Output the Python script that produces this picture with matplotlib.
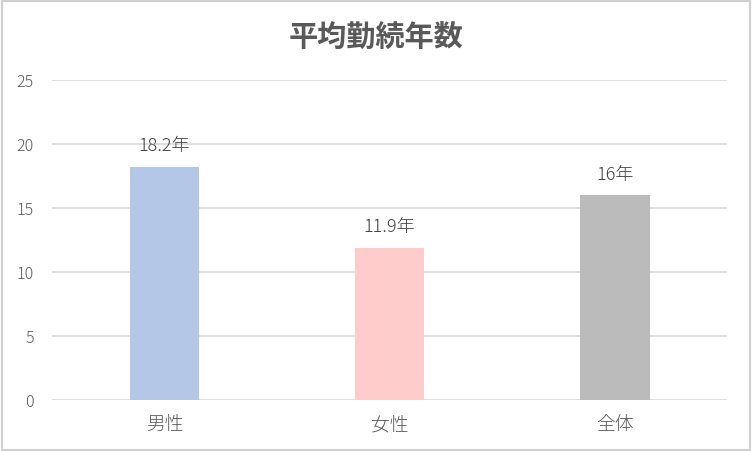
import matplotlib
matplotlib.use("Agg")
from matplotlib import pyplot as plt
from matplotlib.patches import Rectangle

plt.rcParams['font.family'] = ['Noto Sans CJK JP', 'DejaVu Sans']

# data
categories = ["男性", "女性", "全体"]
values = [18.2, 11.9, 16]
labels = ["18.2年", "11.9年", "16年"]
colors = ["#B4C7E7", "#FFCCCC", "#BBBBBB"]
yticks = [0, 5, 10, 15, 20, 25]

fig = plt.figure(figsize=(7.52, 4.52), dpi=100)
ax = fig.add_axes([0.069, 0.113, 0.898, 0.708])

x = range(len(categories))
bars = ax.bar(x, values, width=0.31, color=colors, zorder=3)

for b, lab in zip(bars, labels):
    ax.annotate(lab, (b.get_x() + b.get_width() / 2, b.get_height()),
                xytext=(0, 9), textcoords="offset points",
                ha="center", va="bottom", fontsize=13, fontweight="light",
                color="#404040")

ax.set_xlim(-0.5, 2.5)
ax.set_ylim(0, 25)
ax.set_yticks(yticks)
ax.set_xticks(list(x))
ax.set_xticklabels(categories, fontsize=13.5, fontweight="light")
ax.yaxis.grid(True, color="#D9D9D9", linewidth=1.2, zorder=0)
ax.tick_params(axis="both", length=0, colors="#595959")
ax.tick_params(axis="y", labelsize=11.5, pad=13)
ax.tick_params(axis="x", pad=11)
for t in ax.get_yticklabels():
    t.set_fontweight("light")
for s in ax.spines.values():
    s.set_visible(False)

fig.text(0.5, 0.918, "平均勤続年数", ha="center", va="center",
         fontsize=21, fontweight="bold", color="#595959")

fig.patches.append(Rectangle((0.002, 0.003), 0.995, 0.993, transform=fig.transFigure,
                             fill=False, edgecolor="#D0D0D0", linewidth=1.5))

fig.savefig("out.png", dpi=100)
